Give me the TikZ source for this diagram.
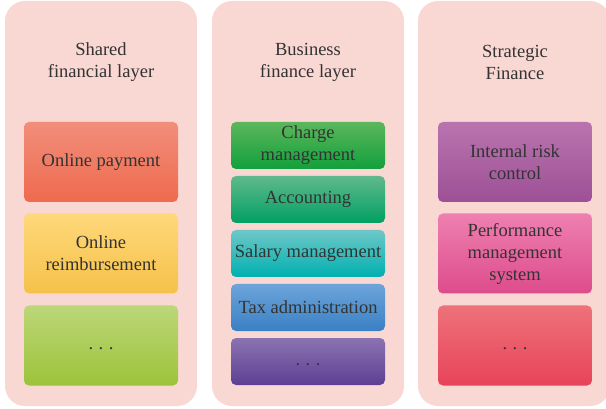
\documentclass[tikz,border=0pt]{standalone}
\usepackage{fontspec}
\setmainfont{Liberation Serif}
\definecolor{colbg}{HTML}{F9D7D3}
\definecolor{txt}{HTML}{333333}
\newcommand{\mydots}{\strut.\hspace{0.3em}.\hspace{0.3em}.}
\tikzset{
  column/.style={fill=colbg, rounded corners=20pt},
  box/.style={rounded corners=5pt, minimum width=154pt, inner sep=0pt, align=center, text=txt,
    font=\fontsize{18.5}{22}\selectfont},
  bigbox/.style={box, minimum height=80pt},
  smallbox/.style={box, minimum height=47pt},
  title/.style={align=center, text=txt, font=\fontsize{18.5}{22}\selectfont},
}
\begin{document}
\begin{tikzpicture}[x=1pt,y=-1pt]
\useasboundingbox (0,0) rectangle (606,409);
% columns
\fill[column] (5,1) rectangle (197,406);
\fill[column] (212,1) rectangle (404,406);
\fill[column] (418,1) rectangle (610,406);
% titles
\node[title] (t1) at (101,62) {Shared\\financial layer};
\node[title] (t2) at (308,62) {Business\\finance layer};
\node[title] (t3) at (515,62) {Strategic\\Finance};
% column 1
\node[bigbox, top color={rgb,255:red,241;green,142;blue,122}, bottom color={rgb,255:red,238;green,106;blue,78}] (a1) at (101,162) {Online payment};
\node[bigbox, top color={rgb,255:red,255;green,216;blue,122}, bottom color={rgb,255:red,245;green,193;blue,74}] (a2) at (101,253.5) {Online\\reimbursement};
\node[bigbox, top color={rgb,255:red,188;green,215;blue,120}, bottom color={rgb,255:red,156;green,195;blue,58}] (a3) at (101,345.5) {\mydots};
% column 2
\node[smallbox, top color={rgb,255:red,92;green,182;blue,92}, bottom color={rgb,255:red,18;green,160;blue,60}] (b1) at (308,145.5) {Charge\\management};
\node[smallbox, top color={rgb,255:red,96;green,185;blue,140}, bottom color={rgb,255:red,0;green,160;blue,98}] (b2) at (308,199.5) {Accounting};
\node[smallbox, top color={rgb,255:red,110;green,199;blue,199}, bottom color={rgb,255:red,0;green,176;blue,176}] (b3) at (308,253.5) {Salary management};
\node[smallbox, top color={rgb,255:red,108;green,164;blue,218}, bottom color={rgb,255:red,58;green,128;blue,196}] (b4) at (308,307.5) {Tax administration};
\node[smallbox, top color={rgb,255:red,139;green,115;blue,177}, bottom color={rgb,255:red,94;green,63;blue,148}] (b5) at (308,361.5) {\mydots};
% column 3
\node[bigbox, top color={rgb,255:red,185;green,116;blue,175}, bottom color={rgb,255:red,158;green,80;blue,150}] (c1) at (515,162) {Internal risk\\control};
\node[bigbox, top color={rgb,255:red,238;green,128;blue,176}, bottom color={rgb,255:red,221;green,76;blue,140}] (c2) at (515,253.5) {Performance\\management\\system};
\node[bigbox, top color={rgb,255:red,238;green,114;blue,122}, bottom color={rgb,255:red,232;green,67;blue,90}] (c3) at (515,345.5) {\mydots};
\end{tikzpicture}
\end{document}
